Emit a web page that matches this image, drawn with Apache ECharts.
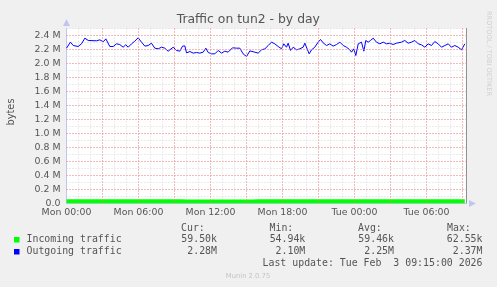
<!DOCTYPE html>
<html><head><meta charset="utf-8">
<script src="https://cdn.jsdelivr.net/npm/echarts@6/dist/echarts.min.js"></script>
<style>html,body{margin:0;padding:0;background:#f0f0f0}#c{width:497px;height:287px}</style>
</head><body><div id="c"></div>
<script>
// Outgoing traffic (bytes, in millions) sampled at hours since Mon 00:00
const outHours = [0,0.33,0.56,0.97,1.25,1.53,1.81,2.5,2.78,3.06,3.28,3.61,3.89,4.17,4.44,4.72,4.94,5.14,5.42,5.69,5.97,6.25,6.53,6.81,7.08,7.36,7.64,7.92,8.19,8.47,8.61,8.89,9.17,9.44,9.67,9.86,10.0,10.28,10.56,10.83,11.11,11.39,11.61,11.81,12.08,12.36,12.64,12.92,13.19,13.47,13.83,14.17,14.44,14.72,15.0,15.28,15.69,15.97,16.25,16.53,16.81,17.08,17.36,17.64,17.92,18.11,18.33,18.47,18.67,18.89,19.17,19.44,19.72,19.86,20.0,20.22,20.42,20.69,20.97,21.17,21.39,21.67,21.94,22.22,22.5,22.78,23.06,23.33,23.61,23.75,23.94,24.11,24.31,24.58,24.78,24.94,25.14,25.33,25.56,25.83,26.11,26.39,26.67,26.94,27.22,27.5,27.92,28.19,28.47,28.75,29.03,29.31,29.58,29.86,30.14,30.42,30.69,30.97,31.25,31.53,31.81,32.08,32.36,32.64,32.92,33.19];
const outValues = [2.219,2.305,2.257,2.243,2.281,2.362,2.329,2.324,2.338,2.310,2.352,2.243,2.243,2.281,2.271,2.233,2.267,2.233,2.281,2.319,2.367,2.305,2.248,2.257,2.290,2.219,2.210,2.233,2.219,2.176,2.200,2.233,2.186,2.176,2.248,2.252,2.152,2.171,2.148,2.157,2.148,2.162,2.219,2.157,2.138,2.138,2.186,2.148,2.176,2.162,2.224,2.219,2.219,2.138,2.100,2.180,2.162,2.148,2.195,2.210,2.257,2.305,2.281,2.243,2.210,2.281,2.233,2.290,2.186,2.233,2.195,2.210,2.233,2.290,2.281,2.138,2.195,2.233,2.305,2.343,2.295,2.257,2.281,2.248,2.271,2.305,2.257,2.233,2.195,2.162,2.210,2.114,2.281,2.305,2.176,2.329,2.305,2.329,2.362,2.305,2.281,2.305,2.281,2.290,2.271,2.290,2.305,2.329,2.290,2.305,2.329,2.281,2.267,2.233,2.281,2.257,2.314,2.281,2.233,2.257,2.281,2.233,2.257,2.233,2.195,2.281];
// Incoming traffic (bytes, in thousands) at hours since Mon 00:00
const inHours = [0,1,2,3,4,5,6,7,8,9,10,11,12,13,14,15,16,17,18,19,20,21,22,23,24,25,26,27,28,29,30,31,32,33,33.19];
const inValuesK = [61,61,62,61.5,61,60.5,61,61.5,60.5,60,58,56,57,55.5,58,57,60,60.5,59,60,61,59.5,60,60.5,59,60,59.5,60,60.5,59,60,59.5,60,59.5,59.5];
// Major grid positions (hours / millions of bytes)
const majorHours = [3,6,9,12,15,18,21,24,27,30,33];
const majorValues = [0.2,0.4,0.6,0.8,1.0,1.2,1.4,1.6,1.8,2.0,2.2,2.4];
const xTickLabels = ['Mon 00:00','Mon 06:00','Mon 12:00','Mon 18:00','Tue 00:00','Tue 06:00'];
const legendNames = ['Incoming traffic','Outgoing traffic'];
const legendHeader = ['Cur:','Min:','Avg:','Max:'];
const incomingStats = ['59.50k','54.94k','59.46k','62.55k'];
const outgoingStats = ['2.28M','2.10M','2.25M','2.37M'];
const titleText = 'Traffic on tun2 - by day';
const lastUpdate = 'Last update: Tue Feb  3 09:15:00 2026';

const outData = outHours.map((h,i)=>[h,outValues[i]]);
const inData = inHours.map((h,i)=>[h,inValuesK[i]/1000]);

const chart = echarts.init(document.getElementById('c'), null, {renderer:'canvas'});
const lblFont = {fontFamily:'DejaVu Sans', fontSize:9.4, color:'#555'};
const mono = '9.9px "DejaVu Sans Mono"';
const gray = {color:'#d8d8d8', type:[1,2], width:1};
const XMAX = 33.333, YMAX = 2.5;

const graphics = [
  {type:'text', x:248.3, y:20, style:{text:titleText, font:'12.4px "DejaVu Sans"', fill:'#555', textAlign:'center', textVerticalAlign:'middle'}},
  {type:'text', x:11, y:112, rotation:Math.PI/2, style:{text:'bytes', font:'9.8px "DejaVu Sans"', fill:'#555', textAlign:'center', textVerticalAlign:'middle'}},
  {type:'text', x:488.5, y:53.5, rotation:-Math.PI/2, style:{text:'RRDTOOL / TOBI OETIKER', font:'6.6px "DejaVu Sans"', fill:'#cfcfcf', textAlign:'center', textVerticalAlign:'middle'}},
  {type:'rect', shape:{x:14, y:237, width:5.5, height:5.5}, style:{fill:'#00ff00'}},
  {type:'rect', shape:{x:14, y:249, width:5.5, height:5.5}, style:{fill:'#0000ff'}},
  {type:'text', x:26.5, y:239.5, style:{text:legendNames[0], font:mono, fill:'#555', textVerticalAlign:'middle'}},
  {type:'text', x:26.5, y:251, style:{text:legendNames[1], font:mono, fill:'#555', textVerticalAlign:'middle'}},
  {type:'text', x:482.5, y:263.8, style:{text:lastUpdate, font:mono, fill:'#555', textAlign:'right', textVerticalAlign:'middle'}},
  {type:'text', x:248, y:276, style:{text:'Munin 2.0.75', font:'6.8px "DejaVu Sans"', fill:'#c4c4c4', textAlign:'center', textVerticalAlign:'middle'}}
];
const headX = [181, 269.5, 358, 447];
const statX = [217, 305.3, 394, 482.5];
legendHeader.forEach((t,i)=>graphics.push({type:'text', x:headX[i], y:228, style:{text:t, font:mono, fill:'#555', textVerticalAlign:'middle'}}));
incomingStats.forEach((t,i)=>graphics.push({type:'text', x:statX[i], y:239.5, style:{text:t, font:mono, fill:'#555', textAlign:'right', textVerticalAlign:'middle'}}));
outgoingStats.forEach((t,i)=>graphics.push({type:'text', x:statX[i], y:251, style:{text:t, font:mono, fill:'#555', textAlign:'right', textVerticalAlign:'middle'}}));

const isMult = (v,s)=>Math.abs(v/s - Math.round(v/s))<1e-6;

chart.setOption({
  backgroundColor:'#f0f0f0',
  animation:false,
  grid:{left:66.5, right:30.5, top:28.5, bottom:83.5, show:true, backgroundColor:'#ffffff', borderWidth:0},
  xAxis:[
    {type:'value', min:0, max:XMAX, interval:1, axisLine:{show:false}, axisTick:{show:false}, axisLabel:{show:false},
     splitLine:{show:true, showMinLine:false, showMaxLine:false, lineStyle:gray}},
    {type:'value', min:0, max:XMAX, interval:3, position:'bottom',
     axisLine:{show:true, lineStyle:{color:'#c4c4f0', width:1}, symbol:['none','triangle'], symbolSize:[7,7], symbolOffset:[0,6]},
     axisTick:{show:false},
     axisLabel:{...lblFont, margin:5, showMaxLabel:false, formatter:v=> isMult(v,6) ? xTickLabels[Math.round(v/6)] : ''},
     splitLine:{show:false}}
  ],
  yAxis:[
    {type:'value', min:0, max:YMAX, interval:0.1, position:'left', axisLine:{show:false}, axisTick:{show:false}, axisLabel:{show:false},
     splitLine:{show:true, showMinLine:false, showMaxLine:true, lineStyle:gray}},
    {type:'value', min:0, max:YMAX, interval:0.2, position:'left',
     axisLine:{show:true, lineStyle:{color:'#c4c4f0', width:1}, symbol:['none','triangle'], symbolSize:[7,7], symbolOffset:[0,6]},
     axisTick:{show:false},
     axisLabel:{...lblFont, margin:6, showMaxLabel:false, formatter:v=> !isMult(v,0.2) ? '' : (v===0 ? '0.0' : v.toFixed(1)+' M')},
     splitLine:{show:false}},
    {type:'value', min:0, max:YMAX, position:'right', axisLine:{show:true, onZero:false, lineStyle:{color:'#909090', width:1}},
     axisTick:{show:false}, axisLabel:{show:false}, splitLine:{show:false}}
  ],
  graphic:graphics,
  series:[
    {name:'major grid', type:'line', xAxisIndex:1, yAxisIndex:1, data:[], symbol:'none', silent:true, z:1,
     markLine:{silent:true, animation:false, symbol:['none','none'], label:{show:false},
       lineStyle:{color:'#f28b8b', type:[1,2], width:1},
       emphasis:{disabled:true},
       data:[...majorHours.map(v=>({xAxis:v})), ...majorValues.map(v=>({yAxis:v}))]}},
    {name:legendNames[0], type:'line', xAxisIndex:1, yAxisIndex:1, data:inData, symbol:'none', step:'middle',
     lineStyle:{width:0, color:'#00ff00'}, areaStyle:{color:'#00ff00', opacity:1}, z:3},
    {name:legendNames[1], type:'line', xAxisIndex:1, yAxisIndex:1, data:outData, symbol:'none',
     lineStyle:{width:1, color:'#0000ff'}, z:4}
  ]
});
</script></body></html>
